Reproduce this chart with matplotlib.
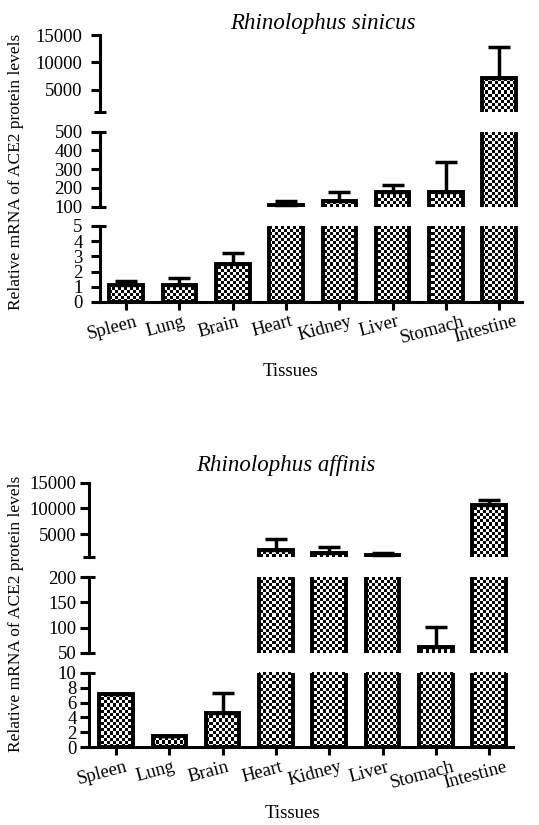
import matplotlib
matplotlib.use('Agg')
import matplotlib.pyplot as plt
import matplotlib.transforms as mtransforms
import numpy as np

plt.rcParams['font.family'] = ['Liberation Serif', 'DejaVu Serif']

# data
tissues = ['Spleen', 'Lung', 'Brain', 'Heart', 'Kidney', 'Liver', 'Stomach', 'Intestine']

sinicus_mean = [1.1, 1.1, 2.5, 110, 128, 176, 176, 7200]
sinicus_err = [0.25, 0.45, 0.7, 22, 50, 41, 160, 5700]
sinicus_ranges = [(0, 5), (100, 500), (1000, 15000)]
sinicus_ticks = [[0, 1, 2, 3, 4, 5], [100, 200, 300, 400, 500], [5000, 10000, 15000]]

affinis_mean = [7.1, 1.5, 4.6, 1900, 1400, 900, 62, 10700]
affinis_err = [0, 0, 2.7, 2100, 1050, 380, 40, 950]
affinis_ranges = [(0, 10), (50, 200), (500, 15000)]
affinis_ticks = [[0, 2, 4, 6, 8, 10], [50, 100, 150, 200], [5000, 10000, 15000]]

W, H = 539, 825
fig = plt.figure(figsize=(W / 100, H / 100), dpi=100)


def checker(w_px, h_px, sq=3):
    # black/white checkerboard used as the bar fill
    yy, xx = np.indices((int(h_px / sq), int(w_px / sq)))
    return ((xx + yy) % 2).astype(float)


def draw_chart(left_px, right_px, seg_px, x_lo, means, errs, ranges, ticks, lab_pad):
    x = np.arange(len(tissues))
    means = np.array(means, dtype=float)
    errs = np.array(errs, dtype=float)
    spacing = 53.3
    x_hi = x_lo + (right_px - left_px) / spacing
    for i, (top, bot) in enumerate(seg_px):
        lo, hi = ranges[i]
        ax = fig.add_axes([left_px / W, 1 - bot / H, (right_px - left_px) / W, (bot - top) / H])
        shown = means > lo
        h = np.where(shown, means, np.nan)
        bars = ax.bar(x, h, width=0.63, facecolor='none', edgecolor='black', linewidth=2.8, zorder=3)
        board = checker(right_px - left_px, bot - top)
        for b, s in zip(bars, shown):
            if not s:
                continue
            im = ax.imshow(board, extent=(0, 1, 0, 1), transform=ax.transAxes, cmap='gray',
                           vmin=0, vmax=1, interpolation='nearest', aspect='auto', zorder=2)
            im.set_clip_path(b)
        e = np.where(shown, errs, np.nan)
        ax.errorbar(x, h, yerr=[np.zeros(len(e)), e], fmt='none', ecolor='black',
                    elinewidth=2.5, capsize=8, capthick=2.5, zorder=4)
        ax.set_xlim(x_lo, x_hi)
        ax.set_ylim(lo, hi)
        ax.set_yticks(ticks[i])
        ax.set_yticklabels([str(t) for t in ticks[i]])
        for s in ['top', 'right']:
            ax.spines[s].set_visible(False)
        ax.spines['left'].set_linewidth(2.2)
        ax.spines['bottom'].set_linewidth(2.2)
        ax.tick_params(axis='y', direction='out', length=6.5, width=2.2, labelsize=13.5, pad=lab_pad)
        ax.patch.set_alpha(0)
        if i == 0:
            ax.set_xticks(x)
            ax.set_xticklabels(tissues, rotation=15, fontsize=13.5)
            ax.tick_params(axis='x', direction='out', length=6, width=2.2, pad=2)
            offset = mtransforms.ScaledTranslation(-14 / 100, 0, fig.dpi_scale_trans)
            for lab in ax.get_xticklabels():
                lab.set_transform(lab.get_transform() + offset)
            caps = [1]
        else:
            ax.spines['bottom'].set_visible(False)
            ax.tick_params(axis='x', bottom=False, labelbottom=False)
            caps = [0, 1] if i == 1 else [0]
        for c in caps:
            ax.plot([0], [c], marker='_', ms=9, mew=2.2, color='black',
                    transform=ax.transAxes, clip_on=False)


# Rhinolophus sinicus
draw_chart(100, 522, [(226, 302), (131.7, 206.7), (35, 111.7)], -0.49,
           sinicus_mean, sinicus_err, sinicus_ranges, sinicus_ticks, 6)
fig.text(323 / W, 1 - 24 / H, 'Rhinolophus sinicus', style='italic', fontsize=16.5,
         ha='center', va='center')
fig.text(16 / W, 1 - 172 / H, 'Relative mRNA of ACE2 protein levels', rotation=90,
         fontsize=12.5, ha='center', va='center')
fig.text(290 / W, 1 - 372 / H, 'Tissues', fontsize=13.5, ha='center', va='center')

# Rhinolophus affinis
draw_chart(89, 513, [(672.7, 747.3), (577.3, 652.7), (482.7, 557.3)], -0.507,
           affinis_mean, affinis_err, affinis_ranges, affinis_ticks, 2.5)
fig.text(286 / W, 1 - 465 / H, 'Rhinolophus affinis', style='italic', fontsize=16.5,
         ha='center', va='center')
fig.text(16 / W, 1 - 614 / H, 'Relative mRNA of ACE2 protein levels', rotation=90,
         fontsize=12.5, ha='center', va='center')
fig.text(292 / W, 1 - 813 / H, 'Tissues', fontsize=13.5, ha='center', va='center')

plt.savefig('out.png', dpi=100)
